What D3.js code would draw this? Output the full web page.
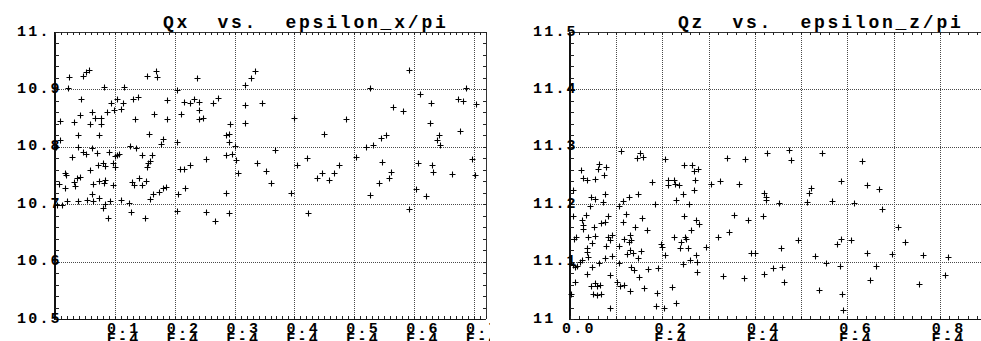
<!DOCTYPE html>
<html>
<head>
<meta charset="utf-8">
<script src="https://cdn.jsdelivr.net/npm/d3@7"></script>
<style>
  body { margin: 0; background: #fff; }
  svg { display: block; }
  text { font-family: "Liberation Mono", "Courier New", monospace; font-weight: bold; fill: #000; white-space: pre; }
</style>
</head>
<body>
<svg id="chart" width="981" height="341"></svg>
<script>
// Horizontal tune Qx against horizontal emittance epsilon_x/pi (units of 1E-4)
const qxPoints = [
  [0.024,10.922],[0.047,10.923],[0.051,10.931],[0.056,10.934],[0.154,10.923],[0.168,10.932],[0.170,10.921],[0.237,10.920],
  [0.022,10.902],[0.082,10.905],[0.116,10.905],[0.204,10.899],
  [0.044,10.884],[0.104,10.884],[0.094,10.876],[0.113,10.877],[0.131,10.884],[0.138,10.886],[0.187,10.882],[0.216,10.878],
  [0.226,10.876],[0.232,10.883],[0.241,10.878],[0.264,10.876],[0.272,10.885],[0.317,10.873],[0.346,10.876],[0.318,10.907],
  [0.328,10.920],[0.334,10.932],
  [0.111,10.866],[0.098,10.864],[0.087,10.860],[0.061,10.860],[0.240,10.864],[0.165,10.858],[0.210,10.857],
  [0.042,10.855],[0.066,10.850],[0.077,10.850],[0.008,10.845],[0.031,10.843],[0.058,10.839],[0.077,10.839],[0.133,10.848],
  [0.187,10.849],[0.241,10.849],[0.248,10.851],[0.317,10.842],[0.293,10.839],
  [0.039,10.820],[0.073,10.820],[0.157,10.823],[0.180,10.814],[0.177,10.805],[0.285,10.821],[0.290,10.823],[0.291,10.809],
  [0.009,10.812],
  [0.002,10.800],[0.038,10.800],[0.062,10.798],[0.126,10.801],[0.136,10.798],[0.204,10.808],[0.300,10.801],
  [0.047,10.791],[0.051,10.788],[0.070,10.789],[0.091,10.791],[0.100,10.784],[0.104,10.786],[0.107,10.787],[0.146,10.786],
  [0.162,10.786],[0.029,10.782],[0.285,10.786],[0.296,10.787],[0.302,10.777],[0.252,10.779],[0.159,10.776],[0.155,10.772],
  [0.153,10.765],[0.337,10.772],
  [0.016,10.755],[0.018,10.751],[0.058,10.760],[0.071,10.769],[0.081,10.771],[0.084,10.766],[0.097,10.772],[0.100,10.764],
  [0.208,10.762],[0.216,10.761],[0.226,10.768],[0.305,10.755],[0.353,10.757],
  [0.037,10.745],[0.041,10.747],[0.032,10.738],[0.033,10.732],[0.007,10.736],[0.017,10.729],[0.063,10.735],[0.073,10.740],
  [0.082,10.737],[0.084,10.743],[0.097,10.734],[0.129,10.738],[0.132,10.733],[0.141,10.745],[0.152,10.740],[0.145,10.734],
  [0.164,10.718],[0.173,10.722],[0.180,10.728],[0.186,10.730],[0.218,10.728],
  [0.206,10.718],[0.062,10.718],[0.286,10.720],
  [0.004,10.699],[0.012,10.698],[0.020,10.705],[0.039,10.705],[0.054,10.707],[0.064,10.705],[0.073,10.710],[0.084,10.701],
  [0.080,10.694],[0.092,10.706],[0.110,10.708],[0.123,10.702],[0.159,10.709],[0.127,10.687],[0.151,10.676],[0.089,10.676],
  [0.204,10.689],[0.252,10.687],[0.267,10.670],[0.291,10.684],
  [0.591,10.934],[0.527,10.903],[0.686,10.902],[0.609,10.892],[0.674,10.884],[0.681,10.879],[0.628,10.876],[0.704,10.875],
  [0.565,10.869],[0.581,10.862],[0.399,10.850],[0.486,10.849],[0.626,10.841],[0.450,10.822],[0.544,10.816],[0.553,10.821],
  [0.641,10.820],[0.638,10.812],[0.643,10.804],[0.677,10.827],[0.532,10.803],[0.519,10.800],[0.368,10.795],[0.502,10.782],
  [0.421,10.781],[0.697,10.779],[0.404,10.769],[0.474,10.768],[0.547,10.773],[0.607,10.771],[0.629,10.769],[0.446,10.755],
  [0.466,10.754],[0.438,10.746],[0.458,10.742],[0.561,10.756],[0.558,10.745],[0.631,10.756],[0.664,10.753],[0.702,10.751],
  [0.361,10.737],[0.541,10.737],[0.394,10.719],[0.526,10.716],[0.603,10.726],[0.619,10.715],[0.591,10.692],[0.423,10.684]
];

// Vertical tune Qz against vertical emittance epsilon_z/pi (units of 1E-4)
const qzPoints = [
  [0.110,11.292],[0.151,11.289],[0.145,11.281],[0.157,11.282],[0.206,11.278],[0.340,11.280],[0.379,11.278],[0.426,11.289],
  [0.024,11.260],[0.063,11.270],[0.060,11.262],[0.078,11.265],[0.073,11.251],[0.029,11.246],[0.036,11.243],[0.055,11.244],
  [0.177,11.238],[0.213,11.242],[0.213,11.233],[0.224,11.242],[0.227,11.236],[0.235,11.234],[0.247,11.268],[0.264,11.268],
  [0.268,11.258],[0.276,11.262],[0.270,11.243],[0.304,11.236],[0.325,11.240],[0.365,11.236],[0.269,11.224],[0.245,11.217],
  [0.229,11.207],[0.258,11.200],[0.183,11.201],[0.147,11.218],[0.127,11.212],[0.114,11.205],[0.106,11.196],[0.076,11.217],
  [0.071,11.204],[0.055,11.209],[0.045,11.212],[0.044,11.197],[0.006,11.225],[0.419,11.219],[0.423,11.212],[0.423,11.208],
  [0.006,11.179],[0.034,11.181],[0.027,11.173],[0.028,11.163],[0.028,11.157],[0.053,11.161],[0.067,11.168],[0.075,11.169],
  [0.083,11.180],[0.121,11.183],[0.114,11.169],[0.156,11.176],[0.166,11.155],[0.141,11.161],[0.246,11.179],[0.272,11.172],
  [0.280,11.165],[0.261,11.155],[0.354,11.182],[0.386,11.172],[0.417,11.179],
  [0.013,11.143],[0.009,11.139],[0.040,11.143],[0.047,11.133],[0.055,11.144],[0.078,11.128],[0.083,11.142],[0.087,11.138],
  [0.091,11.146],[0.107,11.128],[0.116,11.140],[0.129,11.147],[0.132,11.138],[0.127,11.134],[0.129,11.121],[0.123,11.114],
  [0.137,11.115],[0.154,11.119],[0.147,11.106],[0.196,11.131],[0.199,11.125],[0.205,11.112],[0.224,11.143],[0.237,11.124],
  [0.240,11.135],[0.249,11.143],[0.250,11.140],[0.255,11.123],[0.273,11.112],[0.295,11.126],[0.320,11.143],[0.345,11.151],
  [0.392,11.115],[0.401,11.115],
  [0.037,11.123],[0.037,11.116],[0.039,11.108],[0.026,11.102],[0.021,11.099],[0.016,11.092],[0.007,11.094],[0.010,11.091],
  [0.047,11.090],[0.062,11.097],[0.076,11.107],[0.091,11.110],[0.037,11.078],[0.087,11.077],[0.107,11.098],[0.132,11.090],
  [0.138,11.086],[0.150,11.073],[0.168,11.087],[0.190,11.088],[0.244,11.096],[0.260,11.102],[0.274,11.099],[0.274,11.082],
  [0.332,11.075],[0.377,11.072],[0.420,11.078],[0.440,11.088],
  [0.010,11.065],[0.003,11.044],[0.046,11.057],[0.055,11.062],[0.058,11.057],[0.064,11.060],[0.050,11.043],[0.058,11.041],
  [0.068,11.044],[0.101,11.065],[0.109,11.057],[0.117,11.060],[0.129,11.048],[0.161,11.054],[0.220,11.055],[0.189,11.046],
  [0.086,11.020],[0.186,11.023],[0.204,11.019],[0.229,11.028],
  [0.474,11.295],[0.479,11.277],[0.545,11.290],[0.632,11.276],[0.586,11.240],[0.521,11.229],[0.518,11.219],[0.643,11.234],
  [0.669,11.226],[0.513,11.203],[0.566,11.206],[0.614,11.202],[0.453,11.202],[0.676,11.192],[0.709,11.160],[0.725,11.134],
  [0.494,11.138],[0.457,11.123],[0.577,11.130],[0.587,11.139],[0.609,11.138],[0.642,11.115],[0.696,11.113],[0.763,11.111],
  [0.817,11.108],[0.531,11.109],[0.553,11.098],[0.584,11.093],[0.661,11.093],[0.458,11.090],[0.463,11.065],[0.650,11.068],
  [0.754,11.061],[0.811,11.077],[0.539,11.051],[0.589,11.043],[0.591,11.016]
];

// Axis ticks and labels
const qxYTicks  = [10.5, 10.6, 10.7, 10.8, 10.9, 11.0];
const qxYLabels = ["10.5", "10.6", "10.7", "10.8", "10.9", "11."];
const qzYTicks  = [11.0, 11.1, 11.2, 11.3, 11.4, 11.5];
const qzYLabels = ["11", "11.1", "11.2", "11.3", "11.4", "11.5"];

const qxXGrid   = [0.1, 0.2, 0.3, 0.4, 0.5, 0.6, 0.7];
const qxXTicks  = [0.1, 0.2, 0.3, 0.4, 0.5, 0.6, 0.7];
const qxXLabels = ["0.1", "0.2", "0.3", "0.4", "0.5", "0.6", "0.7"];
const qzXGrid   = [0.1, 0.2, 0.3, 0.4, 0.5, 0.6, 0.7, 0.8];
const qzXTicks  = [0.0, 0.2, 0.4, 0.6, 0.8];
const qzXLabels = ["0.0", "0.2", "0.4", "0.6", "0.8"];
const exponentLabel = "E-4";

const panels = [
  { ox: 0, w: 490, left: 55, right: 486, xDomain: [0, 0.72], yDomain: [10.5, 11.0],
    title: "Qx  vs.  epsilon_x/pi", points: qxPoints, yTicks: qxYTicks, yLabels: qxYLabels,
    xGrid: qxXGrid, xTicks: qxXTicks, xLabels: qxXLabels, xMinor: 0.01, labelX: 17 },
  { ox: 490, w: 491, left: 80, right: 496, xDomain: [0, 0.9], yDomain: [11.0, 11.5],
    title: "Qz  vs.  epsilon_z/pi", points: qzPoints, yTicks: qzYTicks, yLabels: qzYLabels,
    xGrid: qzXGrid, xTicks: qzXTicks, xLabels: qzXLabels, xMinor: 0.02, labelX: 43 }
];

const plotTop = 32, plotBottom = 319;
const labelPitch = 11.2, titlePitch = 13.6;
const svg = d3.select("#chart");

// place every character of a string on a fixed character grid
function cells(x0, str, pitch) {
  return Array.from(str, (c, i) => (x0 + i * pitch).toFixed(1)).join(" ");
}

panels.forEach(p => {
  const root = svg.append("svg")
    .attr("x", p.ox).attr("y", 0)
    .attr("width", p.w).attr("height", 341)
    .attr("overflow", "hidden");

  const x = d3.scaleLinear().domain(p.xDomain).range([p.left, p.right]);
  const y = d3.scaleLinear().domain(p.yDomain).range([plotBottom, plotTop]);
  const px = v => Math.round(x(v)) + 0.5;
  const py = v => Math.round(y(v)) + 0.5;

  // dotted grid
  const grid = root.append("g")
    .attr("stroke", "#4a4a4a").attr("stroke-width", 1)
    .attr("stroke-dasharray", "1 1").attr("shape-rendering", "crispEdges");
  grid.selectAll("line.v").data(p.xGrid).join("line").attr("class", "v")
    .attr("x1", d => px(d)).attr("x2", d => px(d)).attr("y1", plotTop).attr("y2", plotBottom);
  grid.selectAll("line.h").data(p.yTicks.slice(1, -1)).join("line").attr("class", "h")
    .attr("y1", d => py(d)).attr("y2", d => py(d)).attr("x1", p.left).attr("x2", p.right);

  // frame
  const frame = root.append("g").attr("shape-rendering", "crispEdges");
  frame.append("line").attr("x1", p.left).attr("x2", p.right).attr("y1", plotTop + 0.5).attr("y2", plotTop + 0.5)
    .attr("stroke", "#333");
  frame.append("line").attr("x1", p.left).attr("x2", p.right).attr("y1", plotBottom + 0.5).attr("y2", plotBottom + 0.5)
    .attr("stroke", "#111");
  frame.append("line").attr("x1", p.right + 0.5).attr("x2", p.right + 0.5).attr("y1", plotTop).attr("y2", plotBottom)
    .attr("stroke", "#333");
  frame.append("line").attr("x1", p.left).attr("x2", p.left).attr("y1", plotTop).attr("y2", plotBottom + 1)
    .attr("stroke", "#111").attr("stroke-width", 2);

  // minor ticks
  const yMinor = d3.range(p.yDomain[0], p.yDomain[1] + 1e-9, 0.02);
  const xMinor = d3.range(p.xDomain[0], p.xDomain[1] + 1e-9, p.xMinor);
  const ticks = root.append("g").attr("stroke", "#222").attr("shape-rendering", "crispEdges");
  ticks.selectAll("line.yl").data(yMinor).join("line").attr("class", "yl")
    .attr("x1", p.left).attr("x2", p.left + 4).attr("y1", d => py(d)).attr("y2", d => py(d));
  ticks.selectAll("line.yr").data(yMinor).join("line").attr("class", "yr")
    .attr("x1", p.right - 3).attr("x2", p.right).attr("y1", d => py(d)).attr("y2", d => py(d));
  ticks.selectAll("line.xb").data(xMinor).join("line").attr("class", "xb")
    .attr("x1", d => px(d)).attr("x2", d => px(d)).attr("y1", plotBottom - 3).attr("y2", plotBottom);
  ticks.selectAll("line.xt").data(xMinor).join("line").attr("class", "xt")
    .attr("x1", d => px(d)).attr("x2", d => px(d)).attr("y1", plotTop).attr("y2", plotTop + 3);

  // y labels
  root.append("g").selectAll("text").data(p.yTicks).join("text")
    .attr("x", (d, k) => cells(p.labelX, p.yLabels[k], labelPitch))
    .attr("y", d => y(d))
    .attr("dominant-baseline", "central")
    .style("font-size", "15px")
    .text((d, k) => p.yLabels[k]);

  // x labels with exponent line beneath
  const xl = root.append("g").selectAll("g").data(p.xTicks).join("g");
  xl.append("text")
    .attr("x", (d, k) => cells(x(d) - 8, p.xLabels[k], labelPitch))
    .attr("y", 332.5)
    .style("font-size", "15px")
    .text((d, k) => p.xLabels[k]);
  xl.filter(d => d > 0).append("text")
    .attr("x", d => cells(x(d) - 8, exponentLabel, labelPitch))
    .attr("y", 343)
    .style("font-size", "15px")
    .text(exponentLabel);

  // title
  root.append("text")
    .attr("x", cells(p.left + 108, p.title, titlePitch))
    .attr("y", 27.5)
    .attr("xml:space", "preserve")
    .style("font-size", "18px")
    .text(p.title);

  // crosses
  const arm = 2.5;
  root.append("path")
    .attr("fill", "none").attr("stroke", "#000").attr("stroke-width", 1.1)
    .attr("d", p.points.map(([a, b]) => {
      const cx = Math.round(x(a)) + 0.5, cy = Math.round(y(b)) + 0.5;
      return `M${cx - arm - 0.5},${cy}h${2 * arm + 1}M${cx},${cy - arm - 0.5}v${2 * arm + 1}`;
    }).join(""));
});
</script>
</body>
</html>
